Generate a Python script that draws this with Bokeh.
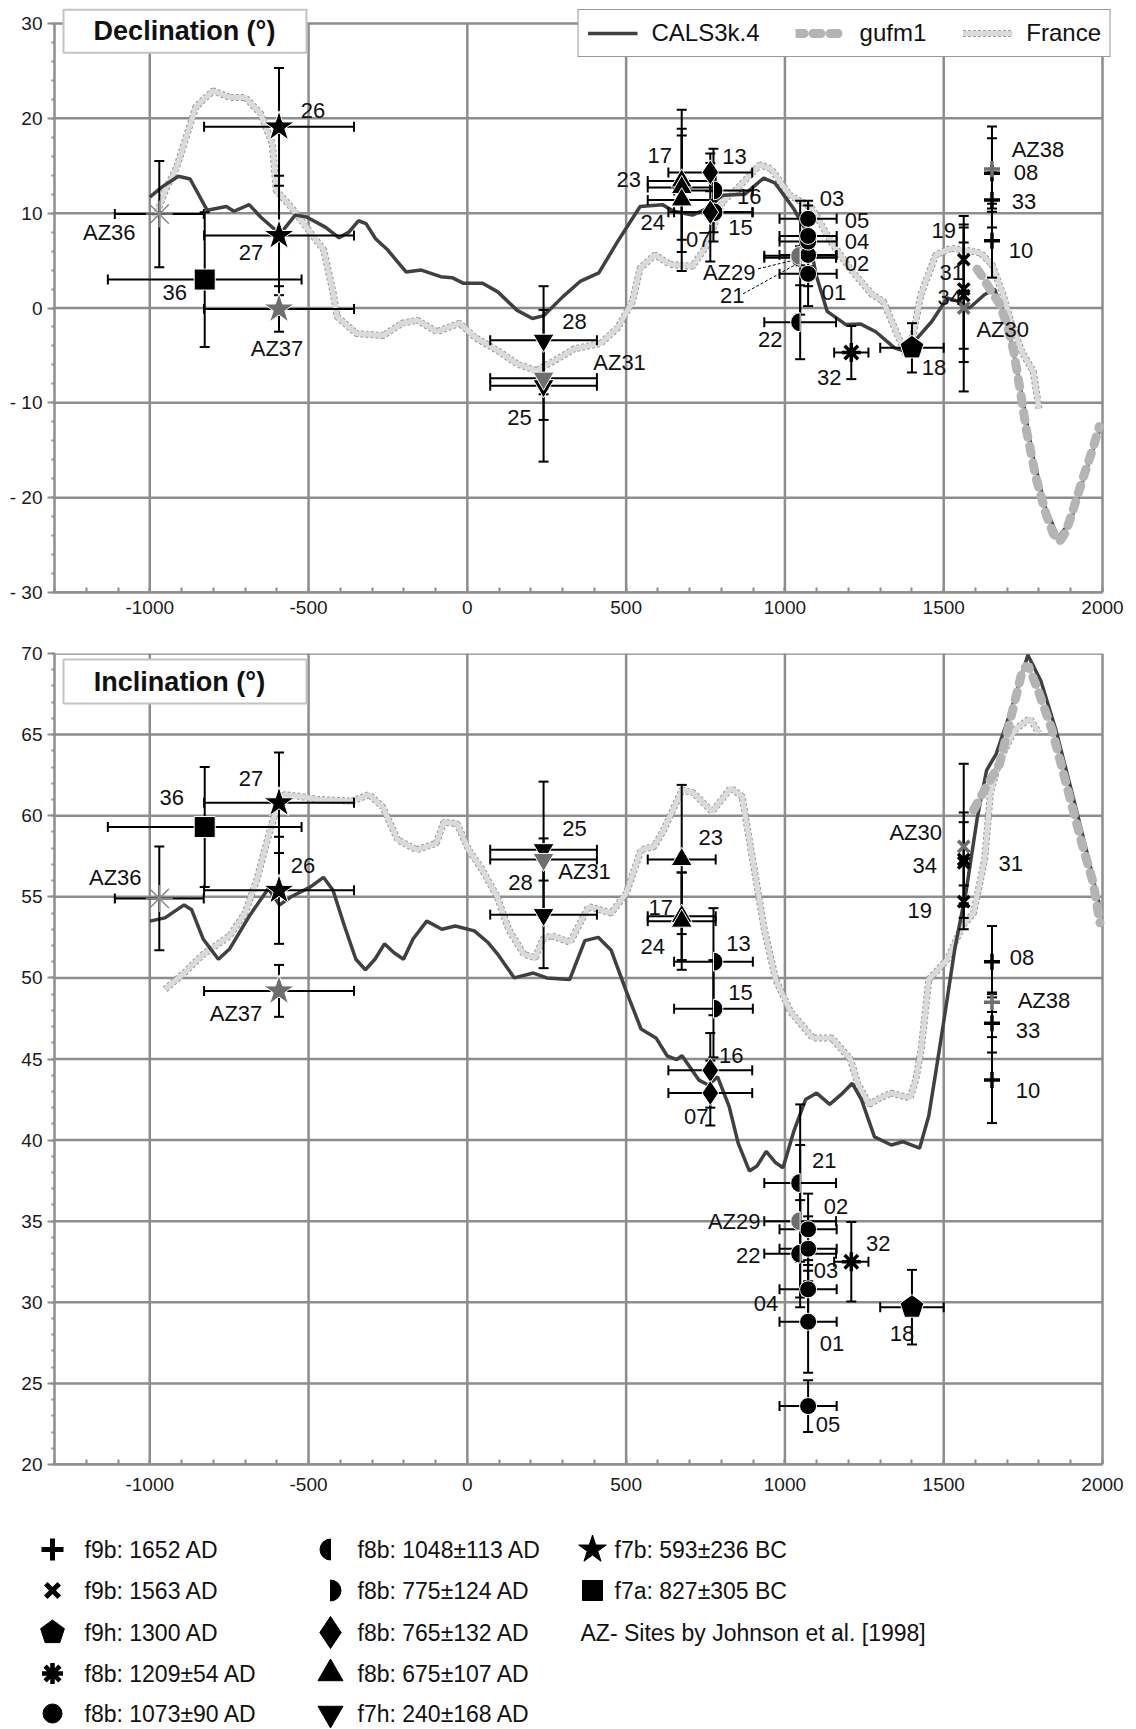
import math
from bokeh.plotting import figure
from bokeh.models import Range1d, FixedTicker, Legend, LegendItem
from bokeh.layouts import column
from bokeh.embed import file_html
from bokeh.resources import INLINE
from bokeh.core.properties import value

# ---------------------------------------------------------------- data
# Marker groups (archaeomagnetic age groups) and their ages (years, BC negative)
GROUP_KEY = ["plus", "x", "pent", "ast", "circ", "halfL", "halfR", "diam", "triU", "triD", "star", "sq", "az36"]
GROUP_AGE = [1652, 1563, 1400, 1209, 1073, 1048, 775, 765, 675, 240, -593, -827, -970]
GROUP_AGE_ERR = [0, 0, 100, 54, 90, 113, 124, 132, 107, 168, 236, 305, 140]
GROUP_LABEL = ["f9b: 1652 AD", "f9b: 1563 AD", "f9h: 1300  AD", "f8b: 1209\u00b154 AD", "f8b: 1073\u00b190 AD",
               "f8b: 1048\u00b1113 AD", "f8b: 775\u00b1124 AD", "f8b: 765\u00b1132 AD", "f8b: 675\u00b1107 AD",
               "f7h: 240\u00b1168 AD", "f7b: 593\u00b1236 BC", "f7a: 827\u00b1305 BC", ""]
AZ_NOTE = "AZ-  Sites by Johnson et al. [1998]"

# Sites
SITE_ID = ["08", "33", "10", "AZ38", "19", "31", "34", "AZ30", "18", "32",
           "01", "02", "03", "04", "05", "21", "22", "AZ29", "13", "15",
           "16", "07", "17", "23", "24", "25", "28", "AZ31", "26", "27",
           "AZ37", "36", "AZ36"]
SITE_GROUP = ["plus", "plus", "plus", "plus", "x", "x", "x", "x", "pent", "ast",
              "circ", "circ", "circ", "circ", "circ", "halfL", "halfL", "halfL", "halfR", "halfR",
              "diam", "diam", "triU", "triU", "triU", "triD", "triD", "triD", "star", "star",
              "star", "sq", "az36"]
DEC = [14.2, 11.4, 7.1, 14.65, 5.1, 2.0, 1.3, 0.0, -4.2, -4.7,
       3.6, 5.6, 9.4, 7.0, 7.6, 5.3, -1.5, 5.5, 12.4, 10.1,
       14.3, 10.1, 13.4, 12.7, 11.4, -8.2, -3.4, -7.4, 19.1, 7.65,
       -0.1, 3.0, 9.9]
DEC_ERR = [3.7, 2.9, 3.9, 4.5, 3.4, 7.7, 5.6, 8.8, 2.6, 2.8,
           3.4, 3.3, 1.9, 2.0, 3.2, 6.0, 3.9, 1.0, 4.4, 3.1,
           2.0, 5.2, 7.5, 5.5, 7.5, 8.0, 5.7, 4.4, 6.2, 6.3,
           2.4, 7.1, 5.6]
INC = [51.0, 47.2, 43.7, 48.5, 54.7, 57.1, 57.3, 58.1, 29.7, 32.5,
       28.8, 34.5, 33.3, 30.8, 23.6, 37.35, 33.0, 35.0, 51.0, 48.1,
       44.3, 42.9, 53.8, 57.3, 53.5, 57.9, 53.9, 57.3, 55.4, 60.8,
       49.2, 59.3, 54.9]
INC_ERR = [2.2, 1.8, 2.65, 0.6, 1.0, 2.5, 2.9, 5.1, 2.3, 2.45,
           3.15, 2.2, 2.0, 1.8, 1.6, 4.85, 3.3, 4.7, 3.3, 3.0,
           2.3, 2.0, 2.7, 4.6, 3.0, 4.2, 3.3, 1.3, 3.3, 3.1,
           1.6, 3.7, 3.2]

# Field model curves - declination
DEC_CALS_X = [-1000, -960, -910, -873, -819, -759, -735, -687, -651, -590, -542, -506, -446, -404, -373, -343,
              -319, -289, -253, -193, -145, -84, -48, -12, 48, 96, 157, 205, 241, 301, 355, 414, 473, 544,
              614, 650, 709, 756, 803, 874, 933, 968, 1027, 1074, 1098, 1133, 1192, 1239, 1286, 1345, 1381,
              1416, 1463, 1511, 1546, 1581, 1628, 1660, 1700, 1740, 1780, 1820, 1860, 1900, 1940, 1990]
DEC_CALS_Y = [11.7, 12.8, 13.9, 13.6, 10.3, 10.7, 10.2, 10.9, 9.6, 7.8, 9.8, 9.6, 8.5, 7.4, 8.0, 9.2,
              8.9, 7.3, 6.2, 3.8, 4.0, 3.3, 3.2, 2.6, 2.6, 1.7, -0.25, -1.1, -0.8, 1.2, 2.8, 3.7, 7.0, 10.7,
              10.9, 10.2, 9.8, 10.5, 11.9, 12.0, 13.7, 13.2, 10.5, 7.7, 3.5, -0.35, -1.75, -1.7, -2.5, -4.2, -4.6,
              -3.2, -1.4, 1.05, 0.7, 0.0, 1.4, 2.0, -1.5, -8.0, -15.5, -21.0, -24.2, -22.5, -18.0, -13.0]
DEC_GUFM_X = [1605, 1620, 1645, 1675, 1700, 1720, 1740, 1760, 1790, 1820, 1845, 1865, 1885, 1910, 1940, 1970, 1990]
DEC_GUFM_Y = [4.1, 3.4, 2.0, 0.5, -1.8, -4.5, -8.5, -12.8, -17.8, -21.5, -23.8, -24.6, -23.6, -21.0, -17.8, -14.8, -12.5]
DEC_FR_X = [-982, -950, -916, -855, -801, -747, -699, -651, -614, -602, -554, -506, -452, -422, -410, -349,
            -265, -205, -157, -96, -24, 24, 96, 157, 217, 277, 337, 419, 473, 520, 544, 591, 638, 709, 756,
            803, 850, 921, 956, 1015, 1086, 1145, 1204, 1275, 1310, 1345, 1381, 1404, 1428, 1475, 1522,
            1569, 1616, 1652, 1687, 1711, 1746, 1782, 1800]
DEC_FR_Y = [9.6, 12.5, 14.8, 21.2, 22.9, 22.2, 22.2, 20.5, 17.3, 12.4, 10.6, 8.5, 6.1, 1.5, -0.9, -2.7,
            -2.9, -1.6, -1.3, -2.5, -1.6, -3.1, -4.5, -5.9, -6.6, -5.5, -4.3, -3.75, -2.1, 0.7, 4.2, 5.6, 4.6, 4.4, 6.7,
            11.2, 12.6, 15.1, 14.7, 11.9, 10.5, 7.0, 4.2, 1.4, 0.7, -2.1, -4.9, -2.8, 1.4, 5.6, 6.3,
            6.1, 5.8, 4.6, 1.4, -1.4, -4.6, -6.7, -10.6]

# Field model curves - inclination
INC_CALS_X = [-1000, -952, -892, -868, -832, -784, -748, -687, -627, -591, -555, -495, -453, -423, -387, -351,
              -321, -291, -261, -231, -201, -171, -128, -80, -38, 22, 64, 94, 148, 208, 250, 322, 370, 412,
              453, 500, 547, 594, 629, 659, 676, 729, 759, 788, 824, 853, 888, 912, 941, 971, 994, 1029,
              1065, 1100, 1141, 1182, 1212, 1241, 1282, 1335, 1371, 1424, 1453, 1476, 1500, 1535, 1571,
              1606, 1635, 1665, 1712, 1765, 1806, 1853, 1912, 1959, 1990]
INC_CALS_Y = [53.5, 53.7, 54.5, 54.2, 52.4, 51.15, 51.8, 53.8, 55.5, 54.5, 55.0, 55.6, 56.2, 55.4, 53.2, 51.15,
              50.5, 51.15, 52.1, 51.55, 51.15, 52.4, 53.5, 53.0, 53.2, 52.9, 52.2, 51.5, 50.0, 50.3, 50.0, 49.9, 52.3, 52.5,
              51.7, 49.2, 46.85, 46.3, 45.2, 44.96, 45.2, 43.7, 43.4, 43.9, 42.1, 39.8, 38.1, 38.4, 39.3, 38.6, 38.3, 40.6,
              42.5, 42.9, 42.2, 42.9, 43.5, 42.5, 40.2, 39.7, 39.9, 39.5, 41.5, 44.3, 47.3, 51.8, 55.4,
              59.9, 62.8, 63.8, 66.5, 69.9, 68.3, 65.3, 60.8, 57.1, 54.5]
INC_GUFM_X = [1594, 1629, 1676, 1712, 1747, 1765, 1794, 1841, 1888, 1935, 1971, 1992]
INC_GUFM_Y = [60.35, 61.6, 63.2, 66.1, 68.9, 69.3, 67.9, 65.3, 61.8, 58.3, 55.85, 53.4]
INC_FR_X = [-952, -892, -832, -748, -700, -663, -627, -609, -579, -531, -471, -363, -309, -267, -219, -159,
            -98, -74, -32, 4, 46, 94, 130, 178, 214, 238, 265, 324, 382, 453, 500, 547, 588, 618, 676, 712,
            771, 829, 865, 900, 935, 971, 1018, 1088, 1147, 1206, 1229, 1265, 1300, 1335, 1394, 1412, 1429,
            1441, 1453, 1512, 1559, 1594, 1629, 1647, 1676, 1724, 1771, 1800]
INC_FR_Y = [49.3, 50.3, 51.45, 52.6, 54.0, 56.05, 58.7, 59.9, 61.3, 61.2, 61.0, 60.9, 61.3, 60.55, 58.5, 57.9,
            58.3, 59.6, 59.5, 57.9, 56.7, 55.0, 53.0, 51.45, 51.25, 52.4, 52.6, 52.2, 54.4, 54.0, 55.2, 57.9, 58.1, 59.1, 61.6, 61.4,
            60.25, 61.7, 61.2, 57.1, 53.0, 49.9, 47.9, 46.3, 46.3, 45.0, 43.5, 42.2, 42.6, 42.9, 42.6, 43.7, 45.6,
            47.7, 49.9, 51.15, 53.2, 54.0, 57.3, 61.4, 63.4, 65.3, 66.0, 65.1]

X_TICKS = [-1000, -500, 0, 500, 1000, 1500, 2000]

# ---------------------------------------------------------------- styles
FONT = "Liberation Sans"
GRID = "#8d8d8d"
INK = "#000000"
AZ_INK = "#6e6e6e"
PXY = 1048 / 3300.0          # screen px per year
DEC_PPU = 569 / 60.0          # screen px per degree (declination)
INC_PPU = 811 / 50.0          # screen px per degree (inclination)
BORDER_L, BORDER_R = 54, 23   # shared left / right borders of the two panels
X_END = -1300 + (1136 - BORDER_L - BORDER_R) / PXY

MARKER_STYLE = {
    "plus": dict(kind="line", marker="cross", size=16, lw=3.5),
    "x": dict(kind="line", marker="x", size=16, lw=3.5),
    "pent": dict(kind="pent", r=12.5),
    "ast": dict(kind="line", marker="asterisk", size=19, lw=3.5),
    "circ": dict(kind="fill", marker="circle", size=17),
    "halfL": dict(kind="wedge", r=9.5, a0=math.pi / 2, a1=3 * math.pi / 2),
    "halfR": dict(kind="wedge", r=9.5, a0=-math.pi / 2, a1=math.pi / 2),
    "diam": dict(kind="fill", marker="diamond", size=25),
    "triU": dict(kind="fill", marker="triangle", size=21),
    "triD": dict(kind="fill", marker="inverted_triangle", size=21),
    "star": dict(kind="fill", marker="star", size=32),
    "sq": dict(kind="fill", marker="square", size=21),
    "az36": dict(kind="line", marker="asterisk", size=27, lw=1.5),
}

# label placement (screen px from the site, +dy downward)
DEC_LABEL_OFFSET = {
    "26": (34, -16), "27": (-28, 17), "AZ37": (-2, 40), "AZ36": (-50, 18), "36": (-30, 13),
    "28": (31, -19), "AZ31": (76, -16), "25": (-24, 32),
    "17": (-22, -25), "23": (-53, -8), "24": (-29, 23),
    "13": (21, -34), "16": (39, 24), "15": (27, 15), "07": (-12, 27),
    "03": (24, -20), "05": (49, -15), "04": (49, 0), "02": (49, 9), "01": (26, 19),
    "AZ29": (-71, 17), "21": (-68, 38), "22": (-30, 17), "32": (-22, 25), "18": (22, 20),
    "19": (-20, -29), "31": (-12, -17), "34": (-14, 2), "AZ30": (39, 21),
    "AZ38": (46, -20), "08": (34, -1), "33": (32, 2), "10": (29, 10),
}
INC_LABEL_OFFSET = {
    "36": (-33, -30), "27": (-28, -24), "26": (24, -25), "AZ36": (-44, -21), "AZ37": (-43, 23),
    "25": (31, -21), "AZ31": (41, 12), "28": (-23, -32),
    "23": (29, -22), "17": (-21, -9), "24": (-29, 25),
    "13": (25, -18), "15": (27, -16), "16": (21, -15), "07": (-14, 23),
    "21": (24, -23), "02": (28, -23), "AZ29": (-66, 0), "22": (-52, 2), "03": (18, 22),
    "04": (-42, 14), "01": (24, 22), "05": (20, 18),
    "32": (27, -18), "18": (-10, 26),
    "AZ30": (-48, -14), "34": (-39, 6), "31": (47, 1), "19": (-44, 9),
    "08": (30, -4), "AZ38": (52, -2), "33": (36, 7), "10": (36, 10),
}
# dashed leader lines (label end -> site), screen px from the site
DEC_LEADERS = {"AZ29": ((-42, 13), (-1, 3)), "21": ((-57, 36), (-3, 6))}


def style_axes(p, yticks, yminor, overrides, xstand, ybounds):
    xa, ya = p.xaxis[0], p.yaxis[0]
    xa.ticker = FixedTicker(ticks=X_TICKS, minor_ticks=list(range(-1300, 2001, 100)))
    xa.bounds = (-1300, 2000)
    xa.major_label_overrides = {t: str(t) for t in X_TICKS}
    ya.ticker = FixedTicker(ticks=yticks, minor_ticks=yminor)
    ya.bounds = ybounds
    ya.major_label_overrides = overrides
    for ax in (xa, ya):
        ax.axis_line_color = GRID
        ax.axis_line_width = 2.5
        ax.major_tick_line_color = GRID
        ax.minor_tick_line_color = GRID
        ax.major_tick_line_width = 2
        ax.minor_tick_line_width = 2
        ax.major_label_text_font = FONT
        ax.major_label_text_font_size = "19px"
        ax.major_label_text_color = "#1a1a1a"
    xa.major_tick_in = 0
    xa.major_tick_out = 0
    xa.minor_tick_in = 5
    xa.minor_tick_out = 0
    xa.major_label_standoff = xstand
    ya.major_tick_in = 0
    ya.major_tick_out = 7
    ya.minor_tick_in = 0
    ya.minor_tick_out = 3
    ya.major_label_standoff = 5
    p.xgrid.visible = False
    p.ygrid.visible = False
    p.outline_line_color = None
    p.background_fill_color = "white"
    p.border_fill_color = "white"


def draw_grid(p, yvals, y0, y1):
    p.multi_line(xs=[[v, v] for v in X_TICKS], ys=[[y0, y1]] * len(X_TICKS),
                 line_color=GRID, line_width=2.5)
    p.multi_line(xs=[[-1300, 2000]] * len(yvals), ys=[[v, v] for v in yvals],
                 line_color=GRID, line_width=2.5)


def draw_curves(p, fx, fy, cx, cy, gx, gy):
    r_fo = p.line(fx, fy, line_color="#9c9c9c", line_width=7, line_dash="3 2")
    r_fi = p.line(fx, fy, line_color="#dadada", line_width=5)
    r_c = p.line(cx, cy, line_color="#404040", line_width=3.5)
    r_g = p.line(gx, gy, line_color="#b4b4b4", line_width=9, line_dash="8 9", line_cap="round")
    return r_c, r_g, [r_fo, r_fi]


def draw_sites(p, vals, errs, ppu, offsets, leaders=None):
    n = len(SITE_ID)
    gi = [GROUP_KEY.index(g) for g in SITE_GROUP]
    xs = [GROUP_AGE[i] for i in gi]
    xe = [GROUP_AGE_ERR[i] for i in gi]
    lo = [v - e for v, e in zip(vals, errs)]
    hi = [v + e for v, e in zip(vals, errs)]
    # vertical error bars with caps
    p.segment(x0=xs, y0=lo, x1=xs, y1=hi, line_color=INK, line_width=2)
    p.scatter(x=xs + xs, y=lo + hi, marker="dash", size=10, line_color=INK, line_width=2)
    # horizontal (age) error bars with caps
    hx = [i for i in range(n) if xe[i] > 0]
    x0 = [xs[i] - xe[i] for i in hx]
    x1 = [xs[i] + xe[i] for i in hx]
    yy = [vals[i] for i in hx]
    p.segment(x0=x0, y0=yy, x1=x1, y1=yy, line_color=INK, line_width=2)
    p.scatter(x=x0 + x1, y=yy + yy, marker="dash", angle=math.pi / 2, size=10, line_color=INK, line_width=2)
    # leader lines
    if leaders:
        for sid, ((ax, ay), (bx, by)) in leaders.items():
            i = SITE_ID.index(sid)
            p.line([xs[i] + ax / PXY, xs[i] + bx / PXY], [vals[i] - ay / ppu, vals[i] - by / ppu],
                   line_color=INK, line_width=1, line_dash="3 2")
    # symbols
    for gkey in GROUP_KEY:
        st = MARKER_STYLE[gkey]
        idx = [i for i in range(n) if SITE_GROUP[i] == gkey]
        if not idx:
            continue
        px = [xs[i] for i in idx]
        py = [vals[i] for i in idx]
        col = [("#8a8a8a" if gkey == "az36" else AZ_INK) if SITE_ID[i].startswith("AZ") else INK for i in idx]
        if st["kind"] == "fill":
            p.scatter(x=px, y=py, marker=st["marker"], size=st["size"], fill_color=col,
                      line_color="white", line_width=1)
        elif st["kind"] == "line":
            p.scatter(x=px, y=py, marker=st["marker"], size=st["size"], line_color=col,
                      line_width=st["lw"])
        elif st["kind"] == "wedge":
            p.wedge(x=px, y=py, radius=st["r"], radius_units="screen", start_angle=st["a0"],
                    end_angle=st["a1"], fill_color=col, line_color="white", line_width=1)
        elif st["kind"] == "pent":
            pxs, pys = [], []
            for x, y in zip(px, py):
                pxs.append([x + st["r"] * math.cos(math.radians(90 + 72 * k)) / PXY for k in range(5)])
                pys.append([y + st["r"] * math.sin(math.radians(90 + 72 * k)) / ppu for k in range(5)])
            p.patches(pxs, pys, fill_color=col, line_color="white", line_width=1)
    # site labels
    lx = [xs[i] + offsets[SITE_ID[i]][0] / PXY for i in range(n)]
    ly = [vals[i] - offsets[SITE_ID[i]][1] / ppu for i in range(n)]
    p.text(x=lx, y=ly, text=SITE_ID, text_font=value(FONT), text_font_size="22px",
           text_color="#111111", text_align="center", text_baseline="middle")


def title_box(p, text, left, right, top, bottom, tx, ty):
    p.quad(left=[left], right=[right], top=[top], bottom=[bottom], fill_color="white",
           line_color="#c4c4c4", line_width=2)
    p.text(x=[tx], y=[ty], text=[text], text_font=value(FONT), text_font_style="bold",
           text_font_size="27px", text_color="#111111", text_align="center", text_baseline="middle")


# ---------------------------------------------------------------- declination panel
top = figure(width=1136, height=640, title=None, output_backend="svg", toolbar_location=None,
             x_range=Range1d(-1300, X_END), y_range=Range1d(-30, -30 + 585 / DEC_PPU),
             min_border_left=BORDER_L, min_border_right=BORDER_R, min_border_top=7, min_border_bottom=48)
style_axes(top, list(range(-30, 31, 10)), list(range(-30, 31, 2)),
           {-10: "- 10", -20: "- 20", -30: "- 30"}, 8, (-30, 30))
draw_grid(top, list(range(-30, 31, 10)), -30, 30)
r_c, r_g, r_f = draw_curves(top, DEC_FR_X, DEC_FR_Y, DEC_CALS_X, DEC_CALS_Y, DEC_GUFM_X, DEC_GUFM_Y)
draw_sites(top, DEC, DEC_ERR, DEC_PPU, DEC_LABEL_OFFSET, DEC_LEADERS)


def tx(px):
    return -1300 + (px - BORDER_L) / PXY


def ty(py):
    return 30 - (py - 22.7) / DEC_PPU


title_box(top, "Declination (\u00b0)", tx(63), tx(306), ty(9), ty(52), tx(184), ty(30))

legend = Legend(items=[LegendItem(label="CALS3k.4", renderers=[r_c]),
                       LegendItem(label="gufm1", renderers=[r_g]),
                       LegendItem(label="France", renderers=r_f)],
                orientation="horizontal", location="top_right", margin=2, padding=9,
                spacing=36, glyph_width=50, glyph_height=20, label_standoff=14,
                label_text_font=FONT, label_text_font_size="24px", label_text_color="#111111",
                border_line_color="#333333", border_line_width=1.5,
                background_fill_color="white", background_fill_alpha=1.0)
top.add_layout(legend)

# ---------------------------------------------------------------- inclination panel
bot = figure(width=1136, height=860, title=None, output_backend="svg", toolbar_location=None,
             x_range=Range1d(-1300, X_END), y_range=Range1d(20, 70),
             min_border_left=BORDER_L, min_border_right=BORDER_R, min_border_top=13, min_border_bottom=36)
style_axes(bot, list(range(20, 71, 5)), list(range(20, 71, 1)), {}, 13, (20, 70))
draw_grid(bot, list(range(20, 71, 5)), 20, 70)
draw_curves(bot, INC_FR_X, INC_FR_Y, INC_CALS_X, INC_CALS_Y, INC_GUFM_X, INC_GUFM_Y)
draw_sites(bot, INC, INC_ERR, INC_PPU, INC_LABEL_OFFSET)


def by(py):
    return 70 - (py - 653) / INC_PPU


title_box(bot, "Inclination (\u00b0)", tx(63), tx(306), by(659), by(703), tx(179), by(681))

# ---------------------------------------------------------------- symbol key
key = figure(width=1136, height=229, title=None, output_backend="svg", toolbar_location=None,
             x_range=Range1d(0, 1136), y_range=Range1d(229, 0),
             x_axis_type=None, y_axis_type=None, min_border=0)
key.frame_align = False      # the key spans the full width, not the panels' frame
key.xgrid.visible = False
key.ygrid.visible = False
key.outline_line_color = None
key.border_fill_color = "white"

KEY_SYM_X = [52, 330, 592]
KEY_TXT_X = [84, 357, 614]
KEY_ROW_Y = [49, 90, 132, 173, 213]
KEY_NOTE_X = 580
KEY_STYLE = {
    "plus": dict(kind="line", marker="cross", size=22, lw=5),
    "x": dict(kind="line", marker="x", size=19, lw=5),
    "pent": dict(kind="pent", r=12.5),
    "ast": dict(kind="line", marker="asterisk", size=21, lw=4.5),
    "circ": dict(kind="fill", marker="circle", size=19),
    "halfL": dict(kind="wedge", r=10.5, a0=math.pi / 2, a1=3 * math.pi / 2),
    "halfR": dict(kind="wedge", r=10.5, a0=-math.pi / 2, a1=math.pi / 2),
    "diam": dict(kind="fill", marker="diamond", size=32),
    "triU": dict(kind="fill", marker="triangle", size=25),
    "triD": dict(kind="fill", marker="inverted_triangle", size=25),
    "star": dict(kind="fill", marker="star", size=29),
    "sq": dict(kind="fill", marker="square", size=20),
}
for k, gkey in enumerate(GROUP_KEY[:12]):
    col, row = k // 5, k % 5
    sx, sy = KEY_SYM_X[col], KEY_ROW_Y[row]
    st = KEY_STYLE[gkey]
    if st["kind"] == "fill":
        key.scatter(x=[sx], y=[sy], marker=st["marker"], size=st["size"], fill_color=INK, line_color=INK)
    elif st["kind"] == "line":
        key.scatter(x=[sx], y=[sy], marker=st["marker"], size=st["size"], line_color=INK, line_width=st["lw"])
    elif st["kind"] == "wedge":
        key.wedge(x=[sx], y=[sy], radius=st["r"], radius_units="screen", start_angle=st["a0"],
                  end_angle=st["a1"], fill_color=INK, line_color=INK)
    else:
        key.patch([sx + st["r"] * math.cos(math.radians(90 + 72 * j)) for j in range(5)],
                  [sy - st["r"] * math.sin(math.radians(90 + 72 * j)) for j in range(5)],
                  fill_color=INK, line_color=INK)
    key.text(x=[KEY_TXT_X[col]], y=[sy], text=[GROUP_LABEL[k]], text_font=value(FONT),
             text_font_size="23px", text_color="#111111", text_baseline="middle")
key.text(x=[KEY_NOTE_X], y=[KEY_ROW_Y[2]], text=[AZ_NOTE], text_font=value(FONT), text_font_size="23px",
         text_color="#111111", text_baseline="middle")

layout = column(top, bot, key, spacing=0)
open("out.html", "w").write(file_html(layout, INLINE))
